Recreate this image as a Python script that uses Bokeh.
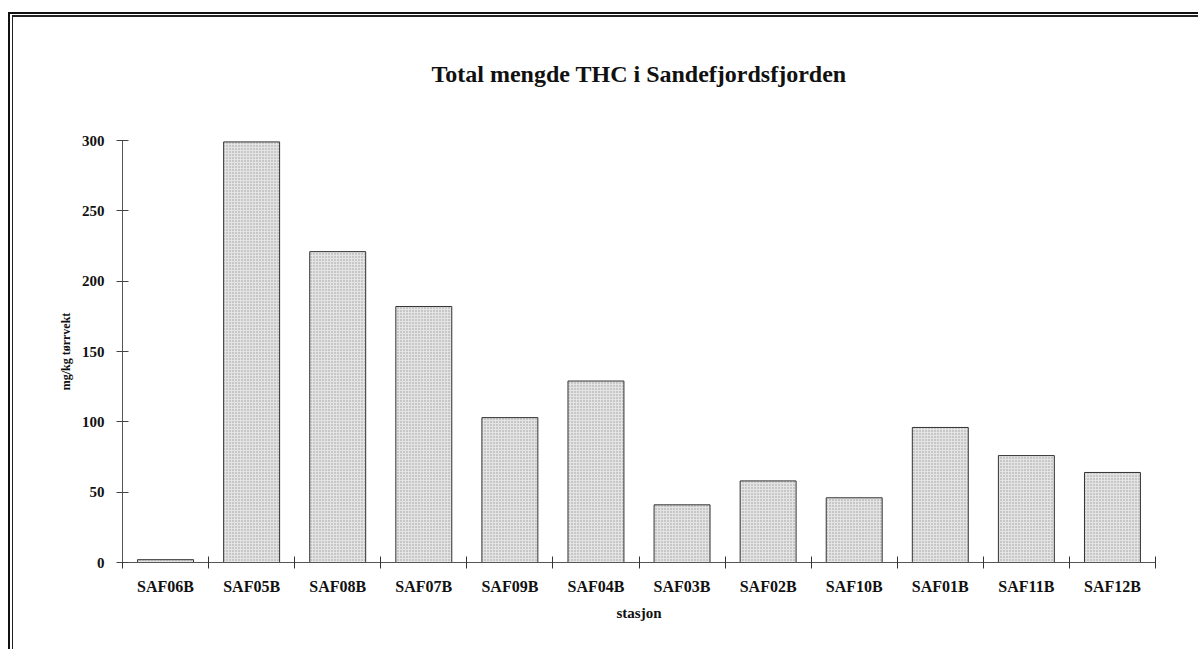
from bokeh.plotting import figure
from bokeh.models import ColumnDataSource, Range1d, FixedTicker, Title
from bokeh.embed import file_html
from bokeh.resources import INLINE

stations = ["SAF06B", "SAF05B", "SAF08B", "SAF07B", "SAF09B", "SAF04B",
            "SAF03B", "SAF02B", "SAF10B", "SAF01B", "SAF11B", "SAF12B"]
thc = [2, 299, 221, 182, 103, 129, 41, 58, 46, 96, 76, 64]
y_ticks = [0, 50, 100, 150, 200, 250, 300]

FONT = "Liberation Serif"

xs = [i + 0.5 for i in range(len(stations))]
src = ColumnDataSource(dict(x=xs, top=thc, name=stations))

p = figure(width=1198, height=649, output_backend="svg", toolbar_location=None,
           x_range=Range1d(0, len(stations)), y_range=Range1d(0, 300),
           min_border_left=122, min_border_right=43, min_border_top=140,
           min_border_bottom=87, tools="")
p.add_layout(Title(text="Total mengde THC i Sandefjordsfjorden", align="center",
                   text_font=FONT, text_font_size="24px", text_font_style="bold",
                   text_color="#111111", standoff=107), "above")

p.vbar(x="x", top="top", width=0.65, source=src, fill_color="#e4e4e4",
       hatch_pattern="dot", hatch_scale=3, hatch_color="#777777", hatch_alpha=0.65,
       line_color="#333333", line_width=1)

p.outline_line_color = None
p.border_fill_color = None
p.background_fill_color = None
p.xgrid.visible = False
p.ygrid.visible = False

# x axis
xa = p.xaxis[0]
xa.ticker = FixedTicker(ticks=xs, minor_ticks=list(range(len(stations) + 1)))
xa.major_label_overrides = {x: s for x, s in zip(xs, stations)}
xa.major_tick_in = 0
xa.major_tick_out = 0
xa.minor_tick_in = 6
xa.minor_tick_out = 6
xa.minor_tick_line_color = "#333333"
xa.axis_line_color = "#555555"
xa.major_label_text_font = FONT
xa.major_label_text_font_size = "16px"
xa.major_label_text_font_style = "bold"
xa.major_label_text_color = "#111111"
xa.major_label_standoff = 9
xa.axis_label = "stasjon"
xa.axis_label_text_font = FONT
xa.axis_label_text_font_size = "15px"
xa.axis_label_text_font_style = "bold"
xa.axis_label_text_color = "#111111"
xa.axis_label_standoff = 7

# y axis
ya = p.yaxis[0]
ya.ticker = FixedTicker(ticks=y_ticks)
ya.major_tick_in = 6
ya.major_tick_out = 6
ya.minor_tick_in = 0
ya.minor_tick_out = 0
ya.major_tick_line_color = "#444444"
ya.axis_line_color = "#555555"
ya.major_label_text_font = FONT
ya.major_label_text_font_size = "15px"
ya.major_label_text_font_style = "bold"
ya.major_label_text_color = "#111111"
ya.major_label_standoff = 12
ya.axis_label = "mg/kg tørrvekt"
ya.axis_label_text_font = FONT
ya.axis_label_text_font_size = "12px"
ya.axis_label_text_font_style = "bold"
ya.axis_label_text_color = "#111111"
ya.axis_label_standoff = 6

# double page frame of the scanned sheet (left and top edges only)
p.styles = {
    "box-shadow": ("inset 8px 12px 0 0 #ffffff, inset 10px 14px 0 0 #111111, "
                   "inset 12px 15px 0 0 #ffffff, inset 13px 17px 0 0 #222222"),
    "background-color": "#ffffff",
}

open("out.html", "w").write(file_html(p, INLINE))
